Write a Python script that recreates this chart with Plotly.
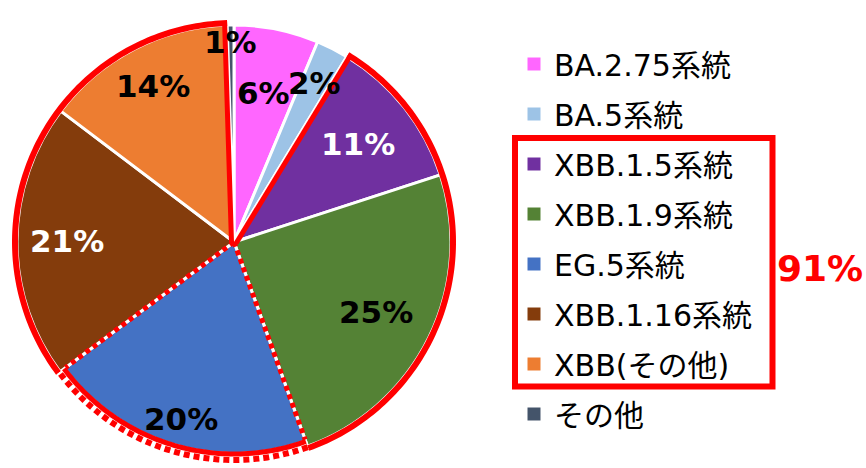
import math
import plotly.graph_objects as go

# ---------------- data ----------------
labels = ["BA.2.75系統", "BA.5系統", "XBB.1.5系統", "XBB.1.9系統",
          "EG.5系統", "XBB.1.16系統", "XBB(その他)", "その他"]
values = [6.3, 2.4, 11.3, 24.5, 20.3, 20.5, 14.2, 0.5]
xbb_group = ["XBB.1.5系統", "XBB.1.9系統", "EG.5系統", "XBB.1.16系統", "XBB(その他)"]
highlight = "EG.5系統"

# ---------------- styles ----------------
colors = ["#FF66FF", "#9DC3E6", "#7030A0", "#548235",
          "#4472C4", "#843C0C", "#ED7D31", "#44546A"]
label_font_colors = ["black", "black", "white", "black", "black", "white", "black", "black"]
label_radius = [0.70, 0.82, 0.73, 0.73, 0.85, 0.77, 0.81, 0.92]

W, H = 866, 468
CX, CY, R = 234, 242, 217
RED = "#FF0000"
FONT = "DejaVu Sans, Noto Sans CJK JP, sans-serif"


def px(x):
    return x / W


def py(y):
    return 1 - y / H


total = sum(values)
cum = [0.0]
for v in values:
    cum.append(cum[-1] + v)
frac = [c / total for c in cum]


def pt(f, r, off=0.0):
    t = 2 * math.pi * f
    x = CX + r * math.sin(t) + off * math.cos(t)
    y = CY - r * math.cos(t) + off * math.sin(t)
    return x, y


def path_from(points):
    return "M " + " L ".join(f"{px(x):.5f},{py(y):.5f}" for x, y in points)


def arc(f0, f1, r):
    n = max(4, int(abs(f1 - f0) * 360))
    return [pt(f0 + (f1 - f0) * k / n, r) for k in range(n + 1)]


fig = go.Figure()

fig.add_trace(go.Pie(
    labels=labels, values=values, sort=False, direction="clockwise", rotation=0,
    marker=dict(colors=colors, line=dict(color="white", width=3)),
    textinfo="none", showlegend=False, hoverinfo="label+percent",
    domain=dict(x=[px(CX - R), px(CX + R)], y=[py(CY + R), py(CY - R)]),
))

# legend entries
for name, c in zip(labels, colors):
    fig.add_trace(go.Scatter(
        x=[-10], y=[-10], mode="markers", name=name, legendgroup=name,
        marker=dict(symbol="square", size=13, color=c), hoverinfo="skip",
    ))

shapes = []
i0 = labels.index(xbb_group[0])
i1 = labels.index(xbb_group[-1])
fs, fe = frac[i0], frac[i1 + 1]
ih = labels.index(highlight)
hs, he = frac[ih], frac[ih + 1]

# solid outline arcs of XBB group (except highlighted slice)
for a, b in [(fs, hs), (he, fe)]:
    shapes.append(dict(type="path", path=path_from(arc(a, b, R + 2)),
                       line=dict(color=RED, width=6), xref="paper", yref="paper", layer="above"))
# radial solid lines of XBB group (shifted into the group)
for f, off in [(fs, 2.5), (fe, -2.5)]:
    p0 = (CX + off * math.cos(2 * math.pi * f), CY + off * math.sin(2 * math.pi * f))
    p1 = pt(f, R + 4, off)
    shapes.append(dict(type="path", path=path_from([p0, p1]),
                       line=dict(color=RED, width=5), xref="paper", yref="paper", layer="above"))
# highlighted slice: dotted border
shapes.append(dict(type="path", path=path_from(arc(hs, he, R - 1.5)),
                   line=dict(color="white", width=11), xref="paper", yref="paper", layer="above"))
shapes.append(dict(type="path", path=path_from(arc(hs, he, R - 5)),
                   line=dict(color=RED, width=5), xref="paper", yref="paper", layer="above"))
shapes.append(dict(type="path", path=path_from(arc(hs, he, R + 1)),
                   line=dict(color=RED, width=6, dash="6px,4px"), xref="paper", yref="paper", layer="above"))
for f in [hs, he]:
    shapes.append(dict(type="path", path=path_from([(CX, CY), pt(f, R - 7)]),
                       line=dict(color=RED, width=5, dash="5px,4px"), xref="paper", yref="paper",
                       layer="above"))
# legend highlight box
shapes.append(dict(type="rect", x0=px(515), x1=px(772.5), y0=py(138), y1=py(386.5),
                   line=dict(color=RED, width=6), xref="paper", yref="paper", layer="above"))

annotations = []
for i, v in enumerate(values):
    mid = (frac[i] + frac[i + 1]) / 2
    x, y = pt(mid, label_radius[i] * R)
    annotations.append(dict(
        x=px(x), y=py(y), xref="paper", yref="paper", showarrow=False,
        text=f"{math.floor(v / total * 100 + 0.5)}%", xanchor="center", yanchor="middle",
        font=dict(family=FONT, size=31, color=label_font_colors[i], weight="bold"),
    ))
xbb_total = sum(values[labels.index(n)] for n in xbb_group)
annotations.append(dict(
    x=px(820), y=py(268), xref="paper", yref="paper", showarrow=False,
    text=f"{math.floor(xbb_total / total * 100 + 0.5)}%", xanchor="center", yanchor="middle",
    font=dict(family=FONT, size=36, color=RED, weight="bold"),
))

fig.update_layout(
    width=W, height=H, margin=dict(l=0, r=0, t=0, b=0),
    paper_bgcolor="white", plot_bgcolor="white",
    xaxis=dict(visible=False, range=[0, 1], fixedrange=True),
    yaxis=dict(visible=False, range=[0, 1], fixedrange=True),
    showlegend=True,
    legend=dict(x=px(514), y=py(38), xanchor="left", yanchor="top",
                bgcolor="rgba(0,0,0,0)", tracegroupgap=8,
                font=dict(family=FONT, size=30, color="black")),
    shapes=shapes, annotations=annotations,
)

fig.write_html("out.html")
